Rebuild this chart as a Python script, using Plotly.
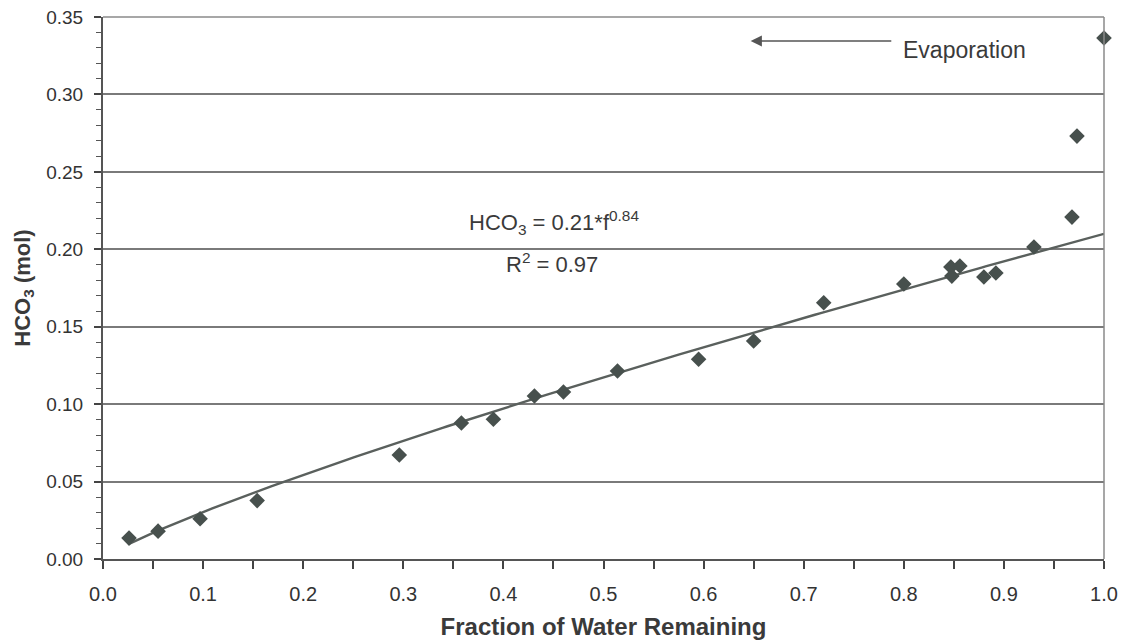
import numpy as np
import plotly.graph_objects as go

# Measured bicarbonate versus fraction of water remaining
fraction_remaining = [0.026, 0.055, 0.097, 0.154, 0.296, 0.358, 0.390, 0.431, 0.460, 0.514,
                      0.595, 0.650, 0.720, 0.800, 0.847, 0.848, 0.856, 0.880, 0.892, 0.930,
                      0.968, 0.973, 1.000]
hco3_mol = [0.0135, 0.018, 0.026, 0.0377, 0.0672, 0.0878, 0.0902, 0.1053, 0.1078, 0.1214,
            0.1290, 0.1408, 0.1655, 0.1776, 0.1886, 0.1827, 0.1892, 0.1821, 0.1847, 0.2015,
            0.2208, 0.2731, 0.3364]

# Power-law fit HCO3 = a * f^b
fit_a = 0.21
fit_b = 0.84
fit_r2 = 0.97

x_ticks = [0.0, 0.1, 0.2, 0.3, 0.4, 0.5, 0.6, 0.7, 0.8, 0.9, 1.0]
y_ticks = [0.00, 0.05, 0.10, 0.15, 0.20, 0.25, 0.30, 0.35]

FONT = "Liberation Sans, Arial, sans-serif"
MARK = "#47504d"
TEXT = "#3a3a3a"

f_line = np.linspace(min(fraction_remaining), 1.0, 200)
hco3_line = fit_a * f_line ** fit_b

fig = go.Figure()
fig.add_trace(go.Scatter(
    x=f_line, y=hco3_line, mode="lines",
    line=dict(color="#5a605d", width=2.4), hoverinfo="skip", showlegend=False))
fig.add_trace(go.Scatter(
    x=fraction_remaining, y=hco3_mol, mode="markers",
    marker=dict(symbol="diamond", size=12, color=MARK),
    cliponaxis=False, showlegend=False))

fig.update_layout(
    width=1129, height=643,
    margin=dict(l=103, r=25, t=17, b=84),
    paper_bgcolor="white", plot_bgcolor="white",
    font=dict(family=FONT, color=TEXT),
    xaxis=dict(
        range=[0, 1.0], tickvals=x_ticks, ticktext=[f"{v:.1f}" for v in x_ticks],
        ticks="outside", ticklen=8, tickwidth=1.5, tickcolor="#444444",
        minor=dict(dtick=0.05, tick0=0, ticks="outside", ticklen=8, tickwidth=1.5, tickcolor="#444444"),
        showline=True, linecolor="#555555", linewidth=2,
        showgrid=False, zeroline=False, automargin=False,
        ticklabelstandoff=8,
        tickfont=dict(size=20, color="#333333"),
        title=dict(text="<b>Fraction of Water Remaining</b>", font=dict(size=24, color=TEXT), standoff=14),
    ),
    yaxis=dict(
        range=[0, 0.35], tickvals=y_ticks, ticktext=[f"{v:.2f}" for v in y_ticks],
        ticks="outside", ticklen=7, tickwidth=1.5, tickcolor="#444444",
        minor=dict(dtick=0.01, tick0=0, ticks="outside", ticklen=5, tickwidth=1.2, tickcolor="#555555"),
        showline=True, linecolor="#555555", linewidth=2,
        showgrid=True, gridcolor="#7a7a7a", gridwidth=1.5, zeroline=False, automargin=False,
        ticklabelstandoff=7,
        tickfont=dict(size=19, color="#333333"),
        title=dict(text="<b>HCO<sub>3</sub> (mol)</b>", font=dict(size=22, color=TEXT), standoff=10),
    ),
    shapes=[
        dict(type="line", xref="paper", yref="paper", x0=1, x1=1, y0=0, y1=1,
             line=dict(color="#8a8a8a", width=1.5)),
        dict(type="line", xref="paper", yref="paper", x0=0, x1=1, y0=1, y1=1,
             line=dict(color="#8a8a8a", width=1.5)),
    ],
    annotations=[
        dict(x=0.647, y=0.3345, ax=0.789, ay=0.3345, xref="x", yref="y", axref="x", ayref="y",
             text="", showarrow=True, arrowhead=2, arrowsize=1.4, arrowwidth=1.6, arrowcolor="#555555"),
        dict(x=0.797, y=0.3285, xref="x", yref="y", text="Evaporation", showarrow=False,
             xanchor="left", yanchor="middle", font=dict(size=23, color=TEXT)),
        dict(x=0.451, y=0.2175, xref="x", yref="y",
             text=f"HCO<sub>3</sub> = {fit_a:.2f}*f<sup>{fit_b:.2f}</sup>", showarrow=False,
             xanchor="center", yanchor="middle", font=dict(size=22, color=TEXT)),
        dict(x=0.449, y=0.1912, xref="x", yref="y",
             text=f"R<sup>2</sup> = {fit_r2:.2f}", showarrow=False,
             xanchor="center", yanchor="middle", font=dict(size=22, color=TEXT)),
    ],
)

fig.write_html("out.html")
